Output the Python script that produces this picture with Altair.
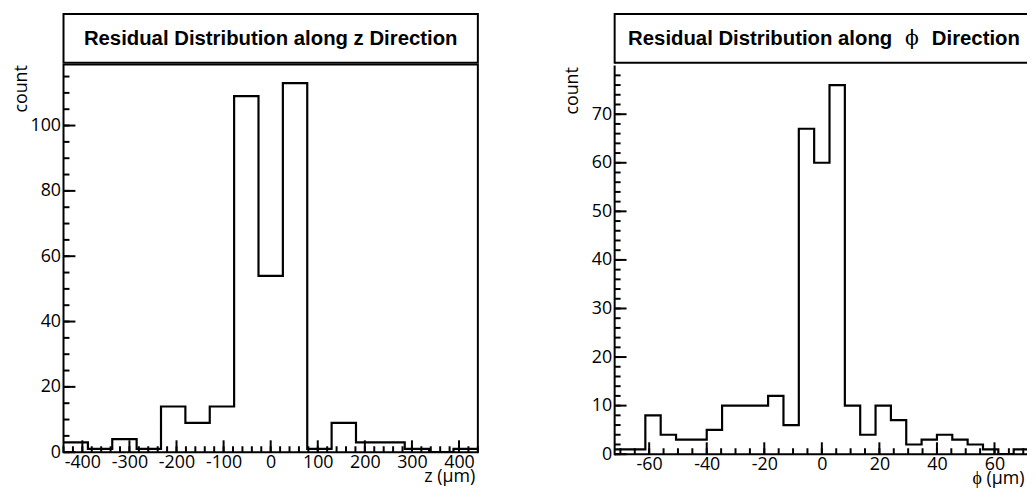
import altair as alt
import numpy as np
import pandas as pd

# ---------------- data ----------------
# z-direction residuals: 17 bins from -440 to 440
z_range = [-440, 440]
z_counts = [3, 1, 4, 1, 14, 9, 14, 109, 54, 113, 1, 9, 3, 3, 1, 0, 1]
z_ymax = 118.65
z_xlabels = [-400, -300, -200, -100, 0, 100, 200, 300, 400]
z_xminor = list(range(-440, 441, 20))
z_ylabels = [0, 20, 40, 60, 80, 100]
z_yminor = list(range(0, 119, 5))

# phi-direction residuals: 27 bins from -72 to 72 (panel is cut at the right page edge)
p_range = [-72, 72]
p_view_max = 71.3
p_counts = [1, 1, 8, 4, 3, 3, 5, 10, 10, 10, 12, 6, 67, 60, 76, 10, 4, 10, 7, 2, 3, 4, 3, 2, 1, 0, 1]
p_ymax = 79.8
p_xlabels = [-60, -40, -20, 0, 20, 40, 60]
p_xminor = list(range(-70, 71, 5))
p_ylabels = [0, 10, 20, 30, 40, 50, 60, 70]
p_yminor = list(range(0, 80, 2))

W, H, TH = 418, 391, 49
W_R = 416
TITLE_FONT = "Liberation Sans"
AX_FONT = "Open Sans"


def step_frame(rng, counts):
    edges = np.linspace(rng[0], rng[1], len(counts) + 1)
    return pd.DataFrame({"x": edges, "y": list(counts) + [counts[-1]]})


def frame_rules(w, h, top):
    segs = [
        (dict(x=alt.value(0), x2=alt.value(0), y=alt.value(0), y2=alt.value(h)), "square"),
        (dict(x=alt.value(0), x2=alt.value(w), y=alt.value(h), y2=alt.value(h)), "butt"),
    ]
    if top:
        segs.append((dict(x=alt.value(0), x2=alt.value(w), y=alt.value(0), y2=alt.value(0)), "butt"))
    return [
        alt.Chart(pd.DataFrame({"k": [0]})).mark_rule(color="black", strokeWidth=2, strokeCap=cap).encode(**s)
        for s, cap in segs
    ]


def panel(rng, view_dom, counts, ymax, xlabels, xminor, ylabels, yminor, xtitle, w, open_right):
    xs = alt.Scale(domain=view_dom, nice=False, zero=False)
    ys = alt.Scale(domain=[0, ymax], nice=False, zero=False)
    xax = alt.Axis(
        values=xlabels, labelExpr="toString(datum.value)", title=xtitle,
        titleAnchor="end", titleAlign="right", titleX=w - 3, titleY=30,
        titleBaseline="alphabetic", labelPadding=1)
    yax = alt.Axis(
        values=ylabels, title="count", titleAngle=270, titleX=-51, titleY=0,
        titleAlign="right", titleBaseline="top", labelPadding=3)

    def X(f):
        return alt.X(f, scale=xs, axis=xax, title=xtitle)

    def Y(f):
        return alt.Y(f, scale=ys, axis=yax, title="count")

    hist = alt.Chart(step_frame(rng, counts)).mark_line(
        interpolate="step-after", color="black", strokeWidth=2.2, clip=True
    ).encode(x=X("x:Q"), y=Y("y:Q"))
    xmaj = alt.Chart(pd.DataFrame({"x": xlabels})).mark_rule(color="black", strokeWidth=2).encode(
        x=X("x:Q"), y=alt.value(H), y2=alt.value(H - 12))
    xmin = alt.Chart(pd.DataFrame({"x": xminor})).mark_rule(color="black", strokeWidth=2).encode(
        x=X("x:Q"), y=alt.value(H), y2=alt.value(H - 6))
    ymaj = alt.Chart(pd.DataFrame({"y": ylabels})).mark_rule(color="black", strokeWidth=2).encode(
        y=Y("y:Q"), x=alt.value(0), x2=alt.value(12))
    ymin = alt.Chart(pd.DataFrame({"y": yminor})).mark_rule(color="black", strokeWidth=2).encode(
        y=Y("y:Q"), x=alt.value(0), x2=alt.value(6))
    layers = [hist, xmaj, xmin, ymaj, ymin]
    if open_right:
        layers += frame_rules(w, H, False)
        return alt.layer(*layers).properties(width=w, height=H, view=alt.ViewBackground(stroke=None))
    return alt.layer(*layers).properties(width=w, height=H)


def title_box(parts, w, open_right):
    layers = []
    for text, dx, align, font, weight in parts:
        layers.append(
            alt.Chart(pd.DataFrame({"t": [text]})).mark_text(
                font=font, fontSize=20.5, fontWeight=weight, align=align,
                baseline="middle", color="black"
            ).encode(text="t:N", x=alt.value(209 + dx), y=alt.value(TH / 2 + 1))
        )
    if open_right:
        layers += frame_rules(w, TH, True)
        return alt.layer(*layers).properties(width=w, height=TH, view=alt.ViewBackground(stroke=None))
    return alt.layer(*layers).properties(width=w, height=TH)


left = alt.vconcat(
    title_box([("Residual Distribution along z Direction", 0, "center", TITLE_FONT, "bold")], W, False),
    panel(z_range, z_range, z_counts, z_ymax, z_xlabels, z_xminor, z_ylabels, z_yminor,
          "z (μm)", W, False),
    spacing=0,
)
right = alt.vconcat(
    title_box([
        ("Residual Distribution along", 71, "right", TITLE_FONT, "bold"),
        ("ϕ", 91, "center", "DejaVu Serif", "normal"),
        ("Direction", 111, "left", TITLE_FONT, "bold"),
    ], W_R, True),
    panel(p_range, [p_range[0], p_view_max], p_counts, p_ymax, p_xlabels, p_xminor, p_ylabels,
          p_yminor, "ϕ (μm)", W_R, True),
    spacing=0,
)

chart = alt.hconcat(left, right, spacing=85).properties(
    padding={"left": 4, "top": 2, "right": 0, "bottom": 0}
).configure_view(stroke="black", strokeWidth=2).configure_axis(
    grid=False, domain=False, ticks=False, labelFont=AX_FONT, labelFontSize=18,
    labelColor="black", titleFont=AX_FONT, titleFontSize=18, titleFontWeight="normal",
    titleColor="black"
)

chart.save("out.html", embed_options={"renderer": "svg", "actions": False})
